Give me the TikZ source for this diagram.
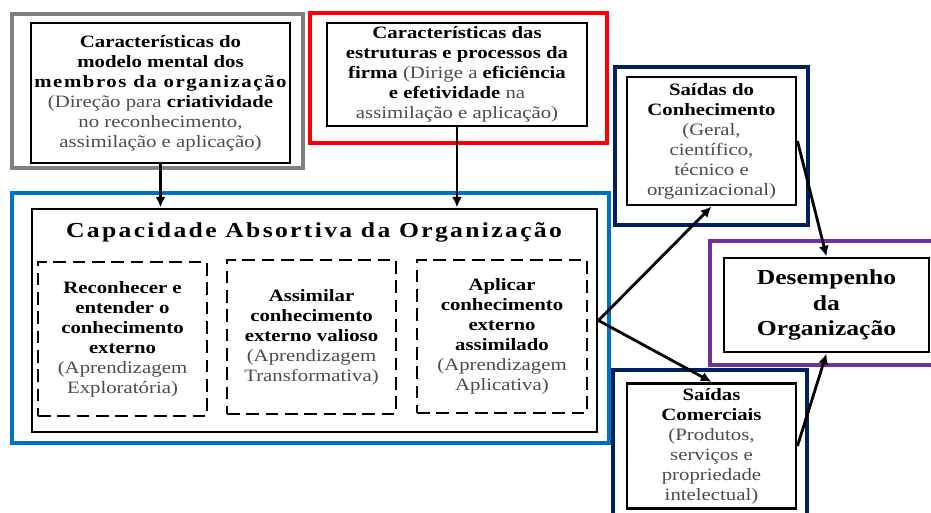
\documentclass[tikz,border=0pt]{standalone}
\usepackage{fontspec}
\setmainfont{Liberation Serif}[FakeStretch=1.2]
\usepackage{xcolor}
\usetikzlibrary{arrows.meta}
\definecolor{framegray}{RGB}{128,128,128}
\definecolor{framered}{RGB}{255,0,0}
\definecolor{frameblue}{RGB}{0,112,192}
\definecolor{framenavy}{RGB}{0,32,96}
\definecolor{framepurple}{RGB}{112,48,160}
\definecolor{txtgray}{RGB}{75,75,75}
\newcommand{\bk}[1]{\textbf{\textcolor{black}{#1}}}
\tikzset{
	txtbox/.style={
			draw=black, line width=2.2pt, align=center, inner sep=0pt,
			text=txtgray, font=\fontsize{13}{15}\selectfont
		},
	dashbox/.style={
			txtbox, dash pattern=on 9.5pt off 5pt
		},
	frame/.style={line width=3.5pt},
	flow/.style={-{Latex[length=8pt,width=7.5pt]}, line width=2.1pt}
}

\begin{document}
\begin{tikzpicture}[x=0.75pt,y=-0.75pt]
			\useasboundingbox (0,0) rectangle (931,513);

			% Coloured frames round the boxes
			\draw[frame, framegray] (12,14) rectangle (303,168);
			\draw[frame, framered] (310,13) rectangle (607,143);
			\draw[frame, frameblue] (12,193) rectangle (609,443);
			\draw[frame, framenavy] (615,67) rectangle (808,225);
			\draw[frame, framenavy] (613,370) rectangle (807,530);
			\draw[frame, framepurple] (710,241) rectangle (945,365);

			% Top boxes
			\node[txtbox, minimum width=194.25pt, minimum height=105pt] (mental) at (160.5,93)
			{\bk{Características do}\\ \bk{modelo mental dos}\\
				{\addfontfeature{LetterSpace=9}\bk{membros da organização}}\\
				(Direção para \bk{criatividade}\\ no reconhecimento,\\ assimilação e aplicação)};
			\node[txtbox, minimum width=195pt, minimum height=77.25pt] (firm) at (457,74.5)
			{\bk{Características das}\\ \bk{estruturas e processos da}\\ \bk{firma} (Dirige a \bk{eficiência}\\
				\bk{e efetividade} na\\ assimilação e aplicação)};

			% Absorptive capacity
			\node[txtbox, minimum width=423.75pt, minimum height=167.25pt] (capacity) at (314.5,320.5) {};
			\node[font=\fontsize{16}{19}\selectfont\bfseries\addfontfeature{LetterSpace=11}] (title) at (314,232)
			{Capacidade Absortiva da Organização};
			\node[dashbox, minimum width=126.75pt, minimum height=115.5pt] (recognize) at (122.5,339)
			{\bk{Reconhecer e}\\ \bk{entender o}\\ \bk{conhecimento}\\ \bk{externo}\\ (Aprendizagem\\ Exploratória)};
			\node[dashbox, minimum width=126.75pt, minimum height=115.5pt] (assimilate) at (311.5,337)
			{\bk{Assimilar}\\ \bk{conhecimento}\\ \bk{externo valioso}\\ (Aprendizagem\\ Transformativa)};
			\node[dashbox, minimum width=127.5pt, minimum height=114.75pt] (apply) at (502,336.5)
			{\bk{Aplicar}\\ \bk{conhecimento}\\ \bk{externo}\\ \bk{assimilado}\\ (Aprendizagem\\ Aplicativa)};

			% Outputs
			\node[txtbox, minimum width=126.75pt, minimum height=96pt] (know) at (711.5,141)
			{\bk{Saídas do}\\ \bk{Conhecimento}\\ (Geral,\\ científico,\\ técnico e\\ organizacional)};
			\node[txtbox, minimum width=126.75pt, minimum height=94pt] (commerce) at (711.5,446)
			{\bk{Saídas}\\ \bk{Comerciais}\\ (Produtos,\\ serviços e\\ propriedade\\ intelectual)};

			% Performance
			\node[txtbox, minimum width=153.75pt, minimum height=70.5pt,
				font=\fontsize{16}{19}\selectfont\bfseries, text=black] (perf) at (826.5,305)
			{Desempenho\\ da\\ Organização};

			% Arrows
			\draw[flow] (mental.south) -- (mental.south |- capacity.north);
			\draw[flow] (firm.south) -- (firm.south |- capacity.north);
			\draw[flow] (capacity.east) -- (know.south);
			\draw[flow] (capacity.east) -- (commerce.north);
			\draw[flow] (know.east) -- (perf.north);
			\draw[flow] (commerce.east) -- (perf.south);
		\end{tikzpicture}
\end{document}
